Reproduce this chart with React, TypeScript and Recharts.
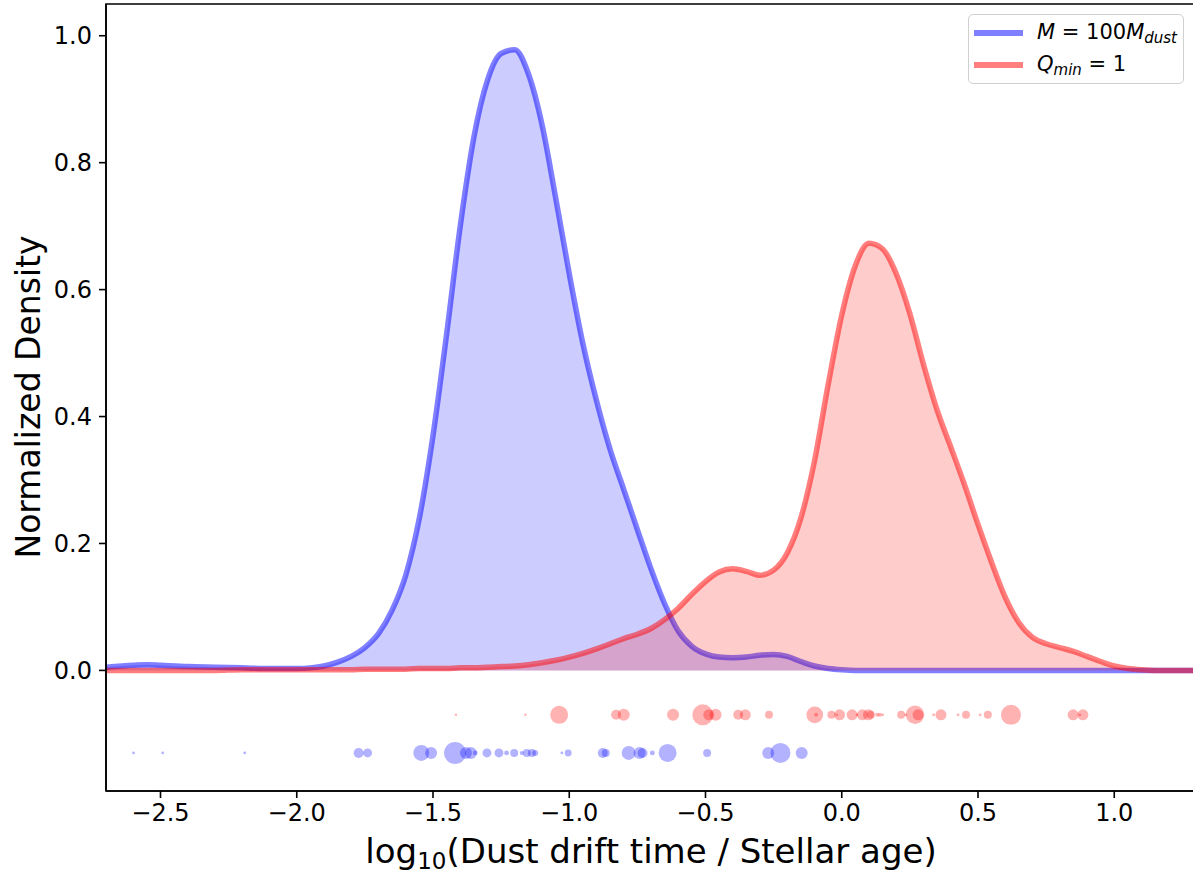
import React from 'react';
import {
  ComposedChart,
  Area,
  Scatter,
  XAxis,
  YAxis,
  ZAxis,
  ReferenceArea,
  Legend,
  Label,
} from 'recharts';

// ---------- data ----------
const gridX = [
  -2.7, -2.6, -2.55, -2.5, -2.4, -2.3, -2.2, -2.1, -2.0,
  -1.95, -1.9, -1.85, -1.8, -1.75, -1.7, -1.65, -1.6, -1.55, -1.5,
  -1.45, -1.4, -1.35, -1.3, -1.25, -1.2, -1.15, -1.1, -1.05, -1.0,
  -0.95, -0.9, -0.85, -0.8, -0.75, -0.7, -0.65, -0.6, -0.55, -0.5,
  -0.45, -0.4, -0.35, -0.3, -0.25, -0.2, -0.15, -0.1, -0.05, 0.0,
  0.05, 0.1, 0.15, 0.2, 0.25, 0.3, 0.35, 0.4, 0.45, 0.5,
  0.55, 0.6, 0.65, 0.7, 0.75, 0.8, 0.85, 0.9, 0.95, 1.0,
  1.05, 1.1, 1.15, 1.2, 1.3,
];

const blueDensity = [
  0.005, 0.008, 0.009, 0.008, 0.006, 0.005, 0.004, 0.003, 0.003,
  0.004, 0.007, 0.013, 0.022, 0.036, 0.058, 0.095, 0.15, 0.24, 0.37,
  0.53, 0.7, 0.84, 0.93, 0.972, 0.978, 0.94, 0.86, 0.745, 0.625,
  0.515, 0.425, 0.348, 0.285, 0.222, 0.16, 0.105, 0.062, 0.038, 0.026,
  0.021, 0.02, 0.021, 0.024, 0.025, 0.022, 0.014, 0.007, 0.003, 0.001,
  0, 0, 0, 0, 0, 0, 0, 0, 0, 0,
  0, 0, 0, 0, 0, 0, 0, 0, 0, 0,
  0, 0, 0, 0, 0,
];

const redDensity = [
  0, 0, 0, 0, 0, 0, 0.001, 0.001, 0.001,
  0.001, 0.001, 0.001, 0.001, 0.002, 0.002, 0.002, 0.002, 0.003, 0.003,
  0.003, 0.004, 0.004, 0.005, 0.006, 0.007, 0.009, 0.012, 0.016, 0.021,
  0.027, 0.034, 0.042, 0.05, 0.057, 0.066, 0.08, 0.098, 0.12, 0.14,
  0.155, 0.16, 0.156, 0.15, 0.158, 0.185, 0.24, 0.33, 0.45, 0.56,
  0.638, 0.673, 0.664, 0.625, 0.562, 0.482, 0.41, 0.352, 0.293, 0.23,
  0.17, 0.115, 0.075, 0.052, 0.042, 0.036, 0.03, 0.022, 0.014, 0.007,
  0.003, 0.001, 0, 0, 0,
];

const blueSampleX = [
  -2.599, -2.492, -2.191, -1.773, -1.74, -1.543, -1.507, -1.419, -1.379, -1.361,
  -1.345, -1.302, -1.258, -1.23, -1.202, -1.174, -1.156, -1.137, -1.125, -1.027,
  -1.004, -0.877, -0.866, -0.782, -0.742, -0.731, -0.695, -0.639, -0.494, -0.27,
  -0.225, -0.147,
];
const blueSampleWeight = [
  2, 2, 2, 25, 20, 64, 36, 121, 36, 36,
  6, 20, 20, 6, 16, 4, 16, 16, 9, 2,
  12, 25, 16, 49, 36, 25, 6, 81, 16, 36,
  100, 36,
];

const redSampleX = [
  -1.416, -1.161, -1.037, -0.828, -0.8, -0.619, -0.51, -0.488, -0.463, -0.38,
  -0.354, -0.267, -0.099, -0.094, -0.038, -0.018, -0.008, 0.038, 0.056, 0.076,
  0.098, 0.107, 0.13, 0.14, 0.15, 0.218, 0.235, 0.269, 0.28, 0.337,
  0.364, 0.427, 0.456, 0.508, 0.536, 0.621, 0.849, 0.874, 0.885,
];
const redSampleWeight = [
  1.5, 1.5, 81, 25, 36, 36, 110, 30, 36, 25,
  30, 16, 70, 4, 16, 2, 30, 30, 2, 30,
  30, 16, 4, 4, 2, 16, 2, 85, 30, 2,
  30, 2, 16, 2, 16, 100, 30, 2, 30,
];

const blueRowY = -0.13;
const redRowY = -0.07;

const xTicks = [-2.5, -2.0, -1.5, -1.0, -0.5, 0.0, 0.5, 1.0];
const yTicks = [0.0, 0.2, 0.4, 0.6, 0.8, 1.0];
const xDomain = [-2.7, 1.3];
const yDomain = [-0.19, 1.05];

// ---------- tables built for the library ----------
const curveTable = gridX.map((x, i) => ({ x, blue: blueDensity[i], red: redDensity[i] }));
const blueSamples = blueSampleX.map((x, i) => ({ x, y: blueRowY, w: blueSampleWeight[i] }));
const redSamples = redSampleX.map((x, i) => ({ x, y: redRowY, w: redSampleWeight[i] }));

const FONT = 'DejaVu Sans, Verdana, sans-serif';

const fmtX = (v: number) => (v < 0 ? '\u2212' : '') + Math.abs(v).toFixed(1);
const fmtY = (v: number) => v.toFixed(1);

const LegendBox = () => (
  <div
    style={{
      position: 'relative',
      width: 216,
      height: 70,
      boxSizing: 'border-box',
      border: '1.5px solid #d0d0d0',
      borderRadius: 5,
      background: 'rgba(255,255,255,0.85)',
      fontFamily: FONT,
      fontSize: 21,
      color: '#000',
    }}
  >
    <div style={{ position: 'absolute', left: 5, top: 15, width: 49, height: 5.5, background: 'rgba(0,0,255,0.5)' }} />
    <div style={{ position: 'absolute', left: 68, top: 4, lineHeight: '26px', whiteSpace: 'nowrap' }}>
      <i>M</i> = 100<i>M</i>
      <sub style={{ fontSize: 15, fontStyle: 'italic', verticalAlign: '-4px' }}>dust</sub>
    </div>
    <div style={{ position: 'absolute', left: 5, top: 47, width: 49, height: 5.5, background: 'rgba(255,0,0,0.5)' }} />
    <div style={{ position: 'absolute', left: 68, top: 36, lineHeight: '26px', whiteSpace: 'nowrap' }}>
      <i>Q</i>
      <sub style={{ fontSize: 15, fontStyle: 'italic', verticalAlign: '-4px' }}>min</sub> = 1
    </div>
  </div>
);

const XTitle = () => (
  <text x={651} y={863} textAnchor="middle" fontFamily={FONT} fontSize={34} fill="#000">
    log
    <tspan dy={6} fontSize={23}>10</tspan>
    <tspan dy={-6}>(Dust drift time / Stellar age)</tspan>
  </text>
);

const YTitle = () => (
  <text
    transform="rotate(-90)"
    x={-397}
    y={40}
    textAnchor="middle"
    fontFamily={FONT}
    fontSize={33}
    fill="#000"
  >
    Normalized Density
  </text>
);

export default function App() {
  return (
    <div style={{ position: 'absolute', left: 0, top: 0, width: 1193, height: 874, overflow: 'hidden', background: '#fff' }}>
      <ComposedChart
        width={1200}
        height={874}
        data={curveTable}
        margin={{ top: 4, right: 4, left: 0, bottom: 0 }}
      >
        <XAxis
          dataKey="x"
          type="number"
          domain={xDomain}
          allowDataOverflow
          ticks={xTicks}
          tickFormatter={fmtX}
          height={83}
          tickSize={7}
          tickMargin={6}
          stroke="#000"
          strokeWidth={1.6}
          tick={{ fontSize: 24, fill: '#000', fontFamily: FONT }}
        >
          <Label content={<XTitle />} />
        </XAxis>
        <YAxis
          dataKey="y"
          type="number"
          domain={yDomain}
          allowDataOverflow
          ticks={yTicks}
          tickFormatter={fmtY}
          width={106}
          tickSize={7}
          tickMargin={7}
          stroke="#000"
          strokeWidth={1.6}
          tick={{ fontSize: 24, fill: '#000', fontFamily: FONT }}
        >
          <Label content={<YTitle />} />
        </YAxis>
        <ZAxis dataKey="w" type="number" domain={[0, 121]} range={[0, 121 * Math.PI]} />
        <Area
          type="monotone"
          dataKey="blue"
          baseValue={0}
          stroke="blue"
          strokeOpacity={0.5}
          strokeWidth={5.5}
          fill="blue"
          fillOpacity={0.2}
          dot={false}
          activeDot={false}
          isAnimationActive={false}
        />
        <Area
          type="monotone"
          dataKey="red"
          baseValue={0}
          stroke="red"
          strokeOpacity={0.5}
          strokeWidth={5.5}
          fill="red"
          fillOpacity={0.2}
          dot={false}
          activeDot={false}
          isAnimationActive={false}
        />
        <Scatter data={redSamples} fill="rgba(255,0,0,0.3)" shape="circle" isAnimationActive={false} />
        <Scatter data={blueSamples} fill="rgba(0,0,255,0.3)" shape="circle" isAnimationActive={false} />
        <ReferenceArea
          x1={xDomain[0]}
          x2={xDomain[1]}
          y1={yDomain[0]}
          y2={yDomain[1]}
          fill="none"
          stroke="#000"
          strokeWidth={1.6}
          ifOverflow="visible"
        />
        <Legend
          layout="horizontal"
          verticalAlign="middle"
          align="center"
          wrapperStyle={{ left: 968, top: 14, width: 216, height: 70 }}
          content={<LegendBox />}
        />
      </ComposedChart>
    </div>
  );
}
